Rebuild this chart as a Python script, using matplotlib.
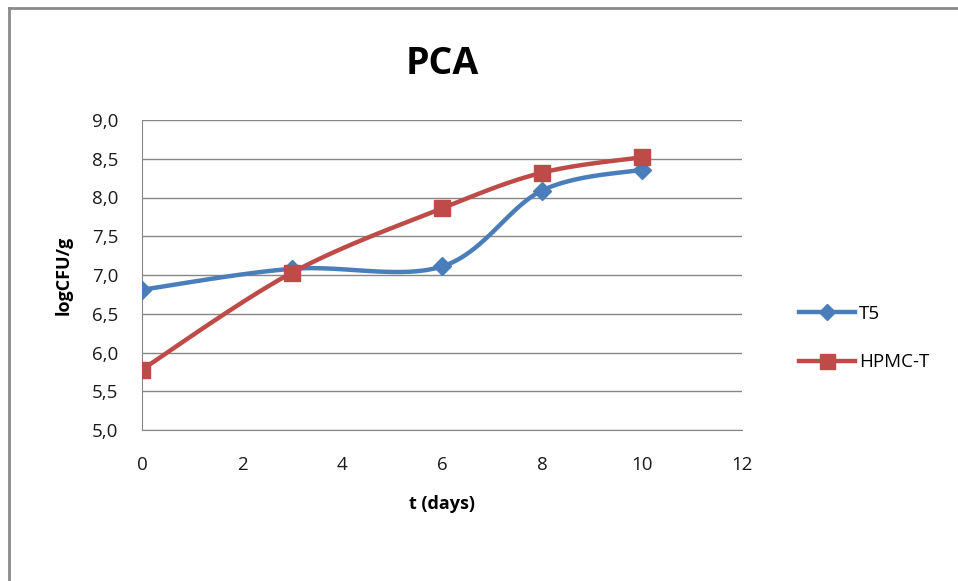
import numpy as np
import matplotlib
matplotlib.use('Agg')
import matplotlib.pyplot as plt
from matplotlib.lines import Line2D
from matplotlib.ticker import FuncFormatter

plt.rcParams['font.family'] = ['Open Sans', 'DejaVu Sans']

# data
days = [0, 3, 6, 8, 10]
t5 = [6.81, 7.08, 7.11, 8.09, 8.36]
hpmc = [5.78, 7.03, 7.86, 8.32, 8.52]
names = ['T5', 'HPMC-T']
colors = ['#4a7ebb', '#be4b48']
markers = ['D', 's']
msizes = [9, 12]


def smooth(x, y, n=30):
    # Excel-like smoothed line: bezier segments with catmull-rom control points
    x = np.asarray(x, float)
    y = np.asarray(y, float)
    px, py = [], []
    m = len(x)
    for i in range(m - 1):
        i0 = max(i - 1, 0)
        i3 = min(i + 2, m - 1)
        c1x = x[i] + (x[i + 1] - x[i0]) / 6
        c1y = y[i] + (y[i + 1] - y[i0]) / 6
        c2x = x[i + 1] - (x[i3] - x[i]) / 6
        c2y = y[i + 1] - (y[i3] - y[i]) / 6
        t = np.linspace(0, 1, n)
        bx = (1-t)**3*x[i] + 3*(1-t)**2*t*c1x + 3*(1-t)*t**2*c2x + t**3*x[i+1]
        by = (1-t)**3*y[i] + 3*(1-t)**2*t*c1y + 3*(1-t)*t**2*c2y + t**3*y[i+1]
        px.extend(bx)
        py.extend(by)
    return px, py


fig = plt.figure(figsize=(9.58, 5.81), dpi=100)
ax = fig.add_axes([142/958, 1-430/581, 600/958, 310/581])

for ys, c, mk, ms in zip([t5, hpmc], colors, markers, msizes):
    sx, sy = smooth(days, ys)
    ax.plot(sx, sy, color=c, lw=3.2, solid_capstyle='round', zorder=3)
    ax.plot(days, ys, ls='none', marker=mk, ms=ms, color=c, zorder=4)

ax.set_xlim(0, 12)
ax.set_ylim(5, 9)
ax.set_xticks(range(0, 13, 2))
ax.set_yticks(np.arange(5, 9.01, 0.5))
ax.yaxis.set_major_formatter(FuncFormatter(lambda v, p: f'{v:.1f}'.replace('.', ',')))
ax.grid(axis='y', color='#868686', lw=1)
ax.set_axisbelow(True)
for s in ['top', 'right']:
    ax.spines[s].set_visible(False)
for s in ['left', 'bottom']:
    ax.spines[s].set_color('#868686')
ax.tick_params(length=0, labelsize=13.5, colors='#1a1a1a')
ax.tick_params(axis='y', pad=17)
ax.tick_params(axis='x', pad=19)

ax.set_title('PCA', fontsize=27, fontweight='bold', pad=33)
ax.set_xlabel('t (days)', fontsize=13, fontweight='bold', labelpad=15)
ax.set_ylabel('logCFU/g', fontsize=13, fontweight='bold', labelpad=14)

handles = [Line2D([], [], color=c, lw=3.2, marker=mk, ms=ms * 0.9)
           for c, mk, ms in zip(colors, markers, msizes)]
fig.legend(handles, names, loc='center left', bbox_to_anchor=(782/958, 1-338/581),
           frameon=False, fontsize=13.5, handlelength=3.0, handletextpad=0.2,
           labelspacing=1.65)

# chart border (left and top visible)
fig.add_artist(Line2D([9/958, 9/958], [0, 1-8/581], color='#8a8a8a', lw=2))
fig.add_artist(Line2D([9/958, 1], [1-8/581, 1-8/581], color='#8a8a8a', lw=2))

fig.savefig('out.png', dpi=100)
